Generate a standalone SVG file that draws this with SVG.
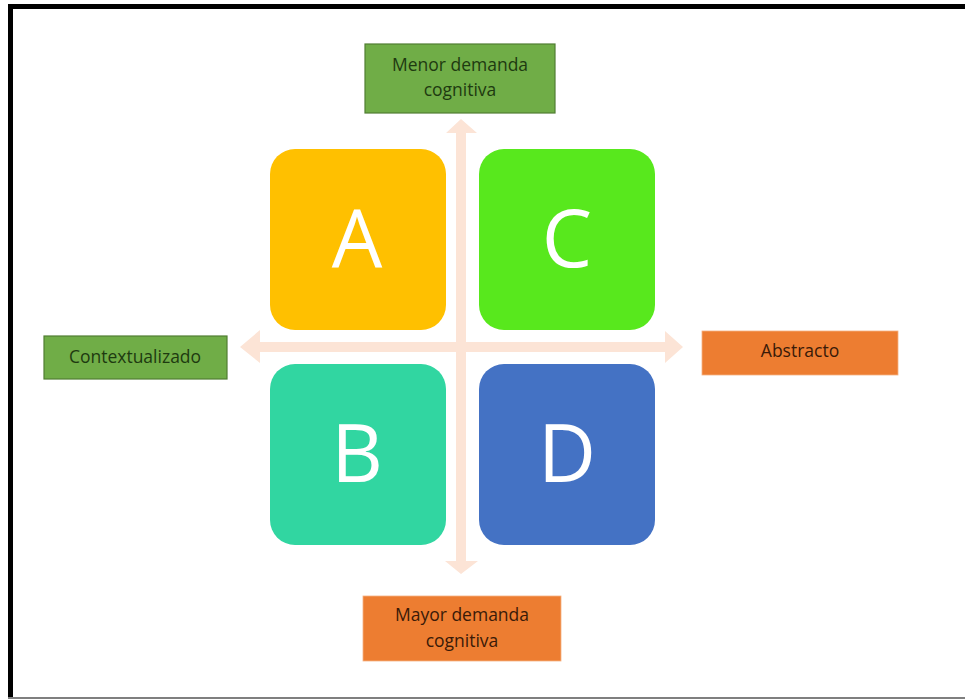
<svg xmlns="http://www.w3.org/2000/svg" width="965" height="699" viewBox="0 0 965 699">
<style>
.quad{stroke:none}
.letter{font-family:"Open Sans","Liberation Sans",sans-serif;font-size:80px;fill:#ffffff;text-anchor:middle}
.lbl{font-family:"Open Sans","Liberation Sans",sans-serif;font-size:17.5px;text-anchor:middle}
.green{fill:#70AD47;stroke:#507E32;stroke-width:1.2}
.orange{fill:#ED7D31;stroke:#F4B183;stroke-width:0.8}
.gtxt{fill:#1E3A10}
.otxt{fill:#3A1A08}
.arrow{fill:#FCE4D6}
</style>
<rect x="0" y="0" width="965" height="699" fill="#ffffff"/>
<g id="frame">
<path d="M10.5,699 V6.5 H965" fill="none" stroke="#000000" stroke-width="5"/>
<line x1="8" y1="698" x2="965" y2="698" stroke="#7f7f7f" stroke-width="2"/>
</g>
<g id="connectors">
<polygon class="arrow" points="456,133 446,133 461,119 477,133 466,133 466,342 665,342 665,331 683,347 665,363 665,352 466,352 466,561 478,561 461,574 445,561 456,561 456,352 260,352 260,363 240,347 260,330 260,342 456,342"/>
</g>
<g id="nodeA">
<rect class="quad" x="270" y="149" width="176" height="181" rx="25" fill="#FFC000"/>
<text class="letter" x="357" y="267">A</text>
</g>
<g id="nodeC">
<rect class="quad" x="479" y="149" width="176" height="181" rx="25" fill="#58E81D"/>
<text class="letter" x="567" y="267">C</text>
</g>
<g id="nodeB">
<rect class="quad" x="270" y="364" width="176" height="181" rx="25" fill="#31D6A1"/>
<text class="letter" x="357" y="482">B</text>
</g>
<g id="nodeD">
<rect class="quad" x="479" y="364" width="176" height="181" rx="25" fill="#4472C4"/>
<text class="letter" x="567" y="482">D</text>
</g>
<g id="top">
<rect class="green" x="365" y="44" width="190" height="69"/>
<text class="lbl gtxt" x="460" y="71">Menor demanda</text>
<text class="lbl gtxt" x="460" y="96">cognitiva</text>
</g>
<g id="left">
<rect class="green" x="44" y="336" width="183" height="43"/>
<text class="lbl gtxt" x="135" y="363">Contextualizado</text>
</g>
<g id="right">
<rect class="orange" x="702" y="331" width="196" height="44"/>
<text class="lbl otxt" x="800" y="357">Abstracto</text>
</g>
<g id="bottom">
<rect class="orange" x="363" y="596" width="198" height="65"/>
<text class="lbl otxt" x="462" y="621">Mayor demanda</text>
<text class="lbl otxt" x="462" y="647">cognitiva</text>
</g>
</svg>
